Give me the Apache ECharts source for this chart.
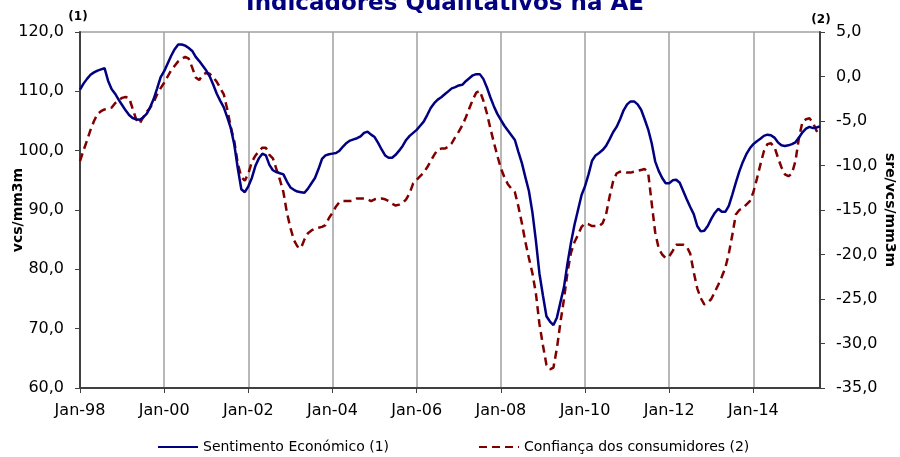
<!DOCTYPE html>
<html>
<head>
<meta charset="utf-8">
<script src="https://cdn.jsdelivr.net/npm/echarts@6/dist/echarts.min.js"></script>
<style>
  html, body { margin: 0; padding: 0; background: #fff; }
  #chart { width: 900px; height: 457px; }
</style>
</head>
<body>
<div id="chart"></div>
<script>
// monthly, Jan-98 .. Aug-15
const startYear = 1998
const monthNames = ['Jan', 'Fev', 'Mar', 'Abr', 'Mai', 'Jun', 'Jul', 'Ago', 'Set', 'Out', 'Nov', 'Dez']

// Sentimento Económico (1), left axis
const sentimento = [
  110.3, 111.3, 112.1, 112.8, 113.2, 113.5, 113.7, 113.9, 111.8, 110.4, 109.6, 108.6, // 1998
  107.7, 106.8, 106.0, 105.5, 105.3, 105.2, 105.6, 106.2, 107.3, 108.7, 110.5, 112.4, // 1999
  113.4, 114.7, 116.0, 117.1, 117.9, 117.9, 117.7, 117.3, 116.8, 115.8, 115.1, 114.3, // 2000
  113.5, 112.5, 111.1, 109.6, 108.4, 107.3, 105.6, 103.8, 101.0, 97.0, 93.5, 93.0,    // 2001
  94.0, 95.4, 97.4, 98.7, 99.5, 99.2, 97.6, 96.7, 96.4, 96.2, 96.0, 94.8,            // 2002
  93.8, 93.4, 93.1, 93.0, 92.9, 93.6, 94.5, 95.4, 96.9, 98.6, 99.2, 99.4,            // 2003
  99.5, 99.6, 100.0, 100.7, 101.3, 101.7, 101.9, 102.1, 102.4, 103.0, 103.2, 102.7,  // 2004
  102.3, 101.3, 100.2, 99.2, 98.8, 98.8, 99.3, 100.0, 100.8, 101.8, 102.5, 103.0,    // 2005
  103.5, 104.2, 104.9, 106.0, 107.2, 108.0, 108.6, 109.0, 109.5, 110.0, 110.5, 110.7, // 2006
  111.0, 111.1, 111.7, 112.2, 112.7, 112.9, 112.9, 112.1, 110.7, 109.0, 107.5, 106.2, // 2007
  105.2, 104.2, 103.4, 102.6, 101.8, 99.8, 97.9, 95.5, 93.2, 89.6, 84.8, 79.3,       // 2008
  75.6, 72.1, 71.2, 70.6, 71.9, 74.5, 77.0, 81.0, 84.5, 87.5, 90.0, 92.5,            // 2009
  94.0, 96.0, 98.3, 99.2, 99.6, 100.1, 100.8, 101.9, 103.1, 104.0, 105.3, 106.8,     // 2010
  107.8, 108.3, 108.3, 107.8, 106.9, 105.3, 103.6, 101.3, 98.2, 96.6, 95.4, 94.5,    // 2011
  94.5, 95.0, 95.1, 94.6, 93.2, 91.8, 90.5, 89.3, 87.3, 86.4, 86.5, 87.3,            // 2012
  88.5, 89.5, 90.2, 89.7, 89.7, 90.7, 92.6, 94.6, 96.5, 98.1, 99.4, 100.4,           // 2013
  101.1, 101.6, 102.0, 102.5, 102.7, 102.6, 102.2, 101.4, 100.9, 100.8, 100.9, 101.1, // 2014
  101.4, 102.2, 103.1, 103.7, 104.0, 103.8, 103.9, 104.1                             // 2015
]

// Confiança dos consumidores (2), right axis
const confianca = [
  -9.5, -8.3, -7.2, -6.0, -5.0, -4.2, -3.9, -3.7, -3.6, -3.5, -3.0, -2.7,       // 1998
  -2.4, -2.3, -2.4, -3.6, -4.8, -5.3, -4.6, -4.0, -3.5, -2.9, -2.0, -1.3,       // 1999
  -0.7, 0.0, 0.7, 1.2, 1.7, 2.0, 2.2, 2.0, 1.0, -0.1, -0.4, 0.2,                // 2000
  0.4, 0.3, -0.1, -0.6, -1.3, -2.0, -3.7, -5.7, -7.3, -9.8, -11.3, -11.7,       // 2001
  -10.9, -9.6, -8.9, -8.4, -8.0, -8.0, -8.8, -9.2, -10.4, -11.6, -13.0, -15.3,  // 2002
  -17.0, -18.4, -19.1, -19.3, -18.3, -17.6, -17.3, -17.1, -17.0, -16.9, -16.7, -15.9, // 2003
  -15.3, -14.6, -14.1, -14.0, -14.0, -14.0, -13.9, -13.7, -13.7, -13.7, -13.8, -14.0, // 2004
  -13.8, -13.7, -13.7, -13.8, -14.0, -14.3, -14.5, -14.4, -14.2, -13.8, -13.1, -12.0, // 2005
  -11.6, -11.2, -10.8, -10.2, -9.5, -8.8, -8.2, -8.1, -8.1, -7.9, -7.5, -6.8,   // 2006
  -6.2, -5.5, -4.6, -3.6, -2.6, -1.8, -1.6, -2.7, -4.1, -5.8, -7.4, -8.9,       // 2007
  -10.3, -11.3, -12.1, -12.6, -13.0, -14.6, -16.5, -18.6, -20.4, -22.1, -24.4, -27.8, // 2008
  -30.2, -32.4, -32.9, -32.7, -30.5, -27.6, -25.0, -22.0, -19.8, -18.6, -17.8, -16.9, // 2009
  -16.5, -16.6, -16.8, -16.8, -16.8, -16.5, -15.5, -13.5, -11.8, -10.9, -10.7, -10.7, // 2010
  -10.8, -10.8, -10.7, -10.6, -10.5, -10.4, -10.8, -14.2, -17.5, -19.3, -20.0, -20.4, // 2011
  -20.2, -19.6, -18.9, -18.9, -18.9, -19.1, -19.9, -22.0, -23.8, -24.9, -25.6, -25.4, // 2012
  -25.0, -24.2, -23.4, -22.5, -21.5, -19.9, -17.8, -15.5, -15.0, -14.8, -14.4, -14.0, // 2013
  -13.0, -11.5, -9.9, -8.4, -7.6, -7.5, -7.9, -9.1, -10.2, -11.0, -11.2, -10.9, // 2014
  -9.5, -6.9, -5.1, -4.8, -4.7, -5.2, -6.1, -6.7                                // 2015
]

const months = sentimento.map((v, i) => {
  const y = startYear + Math.floor(i / 12)
  return monthNames[i % 12] + '-' + String(y).slice(2)
})
// only January of even years gets a label, tick and grid line
const everyTwoYears = (idx) => idx % 24 === 0
const comma = v => v.toFixed(1).replace('.', ',')

const font = 'DejaVu Sans'
const axisDark = '#404040'

const chart = echarts.init(document.getElementById('chart'), null, { renderer: 'canvas' })

const option = {
  animation: false,
  backgroundColor: '#ffffff',
  textStyle: { fontFamily: font },
  grid: {
    left: 80,
    right: 80,
    top: 32,
    bottom: 69,
    show: true,
    borderColor: '#a0a0a0',
    borderWidth: 1.5,
    containLabel: false,
    outerBoundsMode: 'none'
  },
  graphic: [
    {
      type: 'text',
      style: {
        text: 'Indicadores Qualitativos na AE',
        x: 445, y: 4, align: 'center', verticalAlign: 'middle',
        font: 'bold 23px "DejaVu Sans"', fill: '#000080'
      }
    },
    {
      type: 'text',
      style: { text: '(1)', x: 78, y: 17, align: 'center', verticalAlign: 'middle', font: 'bold 12px "DejaVu Sans"', fill: '#000' }
    },
    {
      type: 'text',
      style: { text: '(2)', x: 821, y: 20, align: 'center', verticalAlign: 'middle', font: 'bold 12px "DejaVu Sans"', fill: '#000' }
    }
  ],
  legend: {
    left: 157,
    top: 440,
    padding: 0,
    itemWidth: 40,
    itemHeight: 14,
    itemGap: 89,
    itemStyle: { opacity: 0 },
    textStyle: { fontFamily: font, fontSize: 14, color: '#000' },
    data: ['Sentimento Económico (1)', 'Confiança dos consumidores (2)']
  },
  xAxis: {
    type: 'category',
    data: months,
    boundaryGap: false,
    axisLine: { onZero: false, lineStyle: { color: axisDark, width: 2 } },
    axisTick: { interval: everyTwoYears, length: 5, lineStyle: { color: axisDark } },
    axisLabel: {
      interval: everyTwoYears,
      formatter: v => v.replace(/^[A-Za-z]+/, 'Jan'),
      fontFamily: font, fontSize: 16, color: '#000', margin: 15
    },
    splitLine: { show: true, interval: everyTwoYears, lineStyle: { color: '#a0a0a0', width: 1.5 } }
  },
  yAxis: [
    {
      type: 'value',
      min: 60, max: 120, interval: 10,
      name: 'vcs/mm3m',
      nameLocation: 'middle',
      nameGap: 55,
      nameMoveOverlap: false,
      nameRotate: 90,
      nameTextStyle: { fontFamily: font, fontSize: 14, fontWeight: 'bold', color: '#000' },
      axisLine: { show: true, lineStyle: { color: axisDark, width: 2 } },
      axisTick: { show: true, length: 5, lineStyle: { color: axisDark } },
      axisLabel: { formatter: comma, fontFamily: font, fontSize: 16, color: '#000', margin: 16 },
      splitLine: { show: false }
    },
    {
      type: 'value',
      min: -35, max: 5, interval: 5,
      name: 'sre/vcs/mm3m',
      nameLocation: 'middle',
      nameGap: 63,
      nameMoveOverlap: false,
      nameRotate: -90,
      nameTextStyle: { fontFamily: font, fontSize: 14, fontWeight: 'bold', color: '#000' },
      axisLine: { show: true, lineStyle: { color: axisDark, width: 2 } },
      axisTick: { show: true, length: 5, lineStyle: { color: axisDark } },
      axisLabel: { formatter: comma, fontFamily: font, fontSize: 16, color: '#000', margin: 16 },
      splitLine: { show: false }
    }
  ],
  series: [
    {
      name: 'Sentimento Económico (1)',
      type: 'line',
      yAxisIndex: 0,
      data: sentimento,
      showSymbol: false,
      symbol: 'none',
      lineStyle: { color: '#000080', width: 2.5 },
      itemStyle: { color: '#000080' },
      z: 3
    },
    {
      name: 'Confiança dos consumidores (2)',
      type: 'line',
      yAxisIndex: 1,
      data: confianca,
      showSymbol: false,
      symbol: 'none',
      lineStyle: { color: '#800000', width: 2.5, type: [8, 5] },
      itemStyle: { color: '#800000' },
      z: 2
    }
  ]
}

chart.setOption(option)
</script>
</body>
</html>
